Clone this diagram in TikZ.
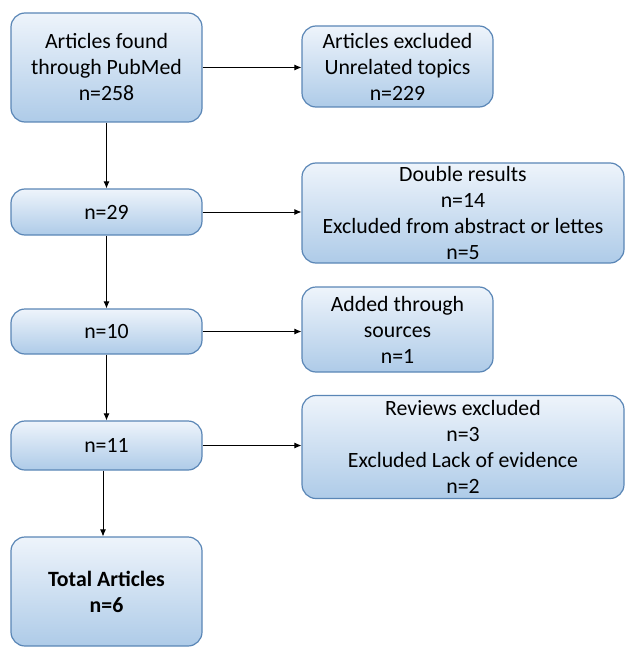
\documentclass[tikz,border=0pt]{standalone}
\usepackage{fontspec}
\setmainfont{Carlito}
\usetikzlibrary{arrows.meta}
\definecolor{boxline}{HTML}{5A86B6}
\definecolor{boxtop}{HTML}{EEF4FB}
\definecolor{boxbot}{HTML}{AECBE8}
\tikzset{
  box/.style={draw=boxline, line width=1.2pt, rounded corners=14pt,
    top color=boxtop, bottom color=boxbot, align=center, inner sep=0pt,
    font=\fontsize{21.8pt}{26pt}\selectfont, text=black},
  conn/.style={draw=black, line width=0.8pt, -{Latex[length=7pt,width=6pt]}}
}
\begin{document}
\begin{tikzpicture}[x=1pt,y=-1pt]
\useasboundingbox (0,0) rectangle (626,647);
\node[box, minimum width=191pt, minimum height=109pt] (b1) at (106.5,67.5) {Articles found\\through PubMed\\n=258};
\node[box, minimum width=191pt, minimum height=81pt] (r1) at (397.5,66.5) {Articles excluded\\Unrelated topics\\n=229};
\node[box, minimum width=191pt, minimum height=46pt] (b2) at (106.5,212) {n=29};
\node[box, minimum width=322pt, minimum height=100pt] (r2) at (463,213) {Double results\\n=14\\Excluded from abstract or lettes\\n=5};
\node[box, minimum width=191pt, minimum height=45pt] (b3) at (106.5,331.5) {n=10};
\node[box, minimum width=191pt, minimum height=85pt] (r3) at (397.5,329.5) {Added through\\sources\\n=1};
\node[box, minimum width=191pt, minimum height=49pt] (b4) at (106.5,445.5) {n=11};
\node[box, minimum width=322pt, minimum height=103pt] (r4) at (463,447) {Reviews excluded\\n=3\\Excluded Lack of evidence\\n=2};
\node[box, minimum width=191pt, minimum height=109pt] (b5) at (106.5,591.5) {\textbf{Total Articles}\\\textbf{n=6}};
\draw[conn] (b1) -- (r1.west |- b1);
\draw[conn] (b2) -- (r2.west |- b2);
\draw[conn] (b3) -- (r3.west |- b3);
\draw[conn] (b4) -- (r4.west |- b4);
\draw[conn] (b1) -- (b2);
\draw[conn] (b2) -- (b3);
\draw[conn] (b3) -- (b4);
\draw[conn] ([xshift=-3.5pt]b4.south) -- ([xshift=-3.5pt]b5.north);
\end{tikzpicture}
\end{document}
